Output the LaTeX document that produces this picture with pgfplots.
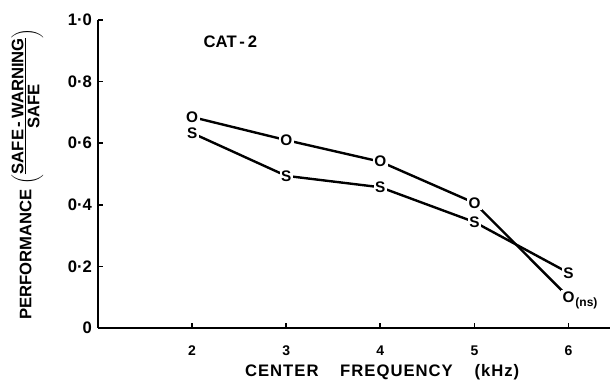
\documentclass[border=0pt]{standalone}
\usepackage{pgfplots}
\pgfplotsset{compat=1.18}
\usepackage{fontspec}
\setmainfont{Liberation Sans}
\begin{document}
\begin{tikzpicture}
\begin{axis}[
  name=ax,
  scale only axis,
  width=384pt, height=231pt,
  xmin=1.0, xmax=6.44, ymin=0, ymax=1,
  axis lines*=left,
  axis line style={line width=1.9pt},
  tick align=inside,
  major tick length=4pt,
  tick style={line width=1.3pt, black},
  xtick={2,3,4,5,6},
  ytick={0,0.2,0.4,0.6,0.8,1.0},
  yticklabels={0,0·2,0·4,0·6,0·8,1·0},
  xticklabels={2,3,4,5,6},
  x tick label style={font=\fontsize{10.5}{12}\selectfont\bfseries, yshift=-10pt},
  y tick label style={font=\fontsize{12.5}{14}\selectfont\bfseries, xshift=-1pt},
  clip=false,
  xlabel={CENTER\hspace{1.3em}FREQUENCY\hspace{1.3em}(kHz)},
  xlabel style={font=\fontsize{12.5}{15}\selectfont\bfseries\addfontfeatures{LetterSpace=6}, at={(axis description cs:0.555,0)}, anchor=north, yshift=-24pt},
  ylabel={PERFORMANCE\hspace{0.3em}$\bigg(\vcenter{\hbox{\begin{tabular}{@{}c@{}}\underline{SAFE\,-\,WARNING}\\[-3pt] SAFE\end{tabular}}}\bigg)$},
  ylabel style={font=\fontsize{12.5}{15}\selectfont\bfseries, at={(axis description cs:-0.138,0.5)}, anchor=center, inner sep=1pt},
  text mark as node=true,
]
\addplot[line width=1.8pt, black, mark=text, text mark={O},
  text mark style={font=\fontsize{11.5}{12}\selectfont\bfseries, fill=white, inner sep=1.2pt}]
  coordinates {(2,0.685) (3,0.61) (4,0.54) (5,0.406) (6,0.10)};
\addplot[line width=1.8pt, black, mark=text, text mark={S},
  text mark style={font=\fontsize{11.5}{12}\selectfont\bfseries, fill=white, inner sep=1.2pt}]
  coordinates {(2,0.633) (3,0.494) (4,0.457) (5,0.344) (6,0.179)};
\node[anchor=west, font=\fontsize{9}{10}\selectfont\bfseries, inner sep=0pt] at (axis cs:6.07,0.08) {(ns)};
\node[anchor=west, font=\fontsize{12.5}{15}\selectfont\bfseries, inner sep=0pt] at (axis cs:2.12,0.93) {CAT\,-\,2};
\end{axis}
\pgfresetboundingbox
\path[use as bounding box] ([xshift=-73.5pt,yshift=-41.25pt]ax.south west) rectangle ([yshift=15pt]ax.north east);
\end{tikzpicture}
\end{document}
